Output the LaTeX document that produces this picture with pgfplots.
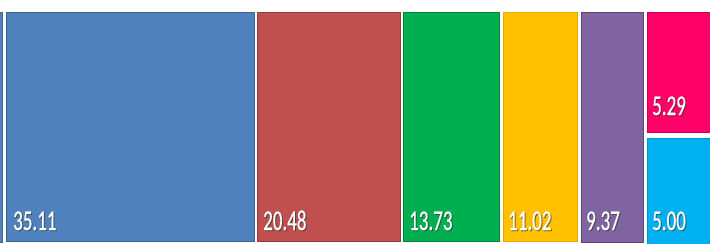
\documentclass[border=0pt]{standalone}
\usepackage{pgfplots}
\pgfplotsset{compat=1.18}
\usepackage{fontspec}
\setmainfont{Carlito}
\newfontfamily\labfont{Carlito}[FakeBold=0.7]
\definecolor{cblue}{HTML}{4F81BD}
\definecolor{cred}{HTML}{C0504D}
\definecolor{cgreen}{HTML}{00B050}
\definecolor{cyellow}{HTML}{FFC000}
\definecolor{cpurple}{HTML}{8064A2}
\definecolor{cpink}{HTML}{FF0066}
\definecolor{ccyan}{HTML}{00B0F0}
\newcommand{\lab}[3]{%
  \node[anchor=base west,inner sep=0pt,text=black!80,opacity=0.6] at (axis cs:#1+1,#2+1) {\labfont\fontsize{19bp}{22bp}\selectfont\scalebox{1}[1.5]{#3}};
  \node[anchor=base west,inner sep=0pt,text=white] at (axis cs:#1,#2) {\labfont\fontsize{19bp}{22bp}\selectfont\scalebox{1}[1.5]{#3}};}
\begin{document}
\begin{tikzpicture}
\begin{axis}[
  scale only axis, width=710bp, height=244bp,
  xmin=0, xmax=710, ymin=0, ymax=244, y dir=reverse,
  axis lines=none, ticks=none,
  every axis plot/.append style={line width=1bp},
]
% left partial tile
\addplot[fill=cblue, draw=cblue!80!black] coordinates {(-10,13) (2,13) (2,242) (-10,242)} -- cycle;
% 35.11
\addplot[fill=cblue, draw=cblue!75!black] coordinates {(6.5,13) (254.5,13) (254.5,241.5) (6.5,241.5)} -- cycle;
% 20.48
\addplot[fill=cred, draw=cred!75!black] coordinates {(257.5,13) (400.5,13) (400.5,241.5) (257.5,241.5)} -- cycle;
% 13.73
\addplot[fill=cgreen, draw=cgreen!75!black] coordinates {(403.5,13) (499,13) (499,241.5) (403.5,241.5)} -- cycle;
% 11.02
\addplot[fill=cyellow, draw=cyellow!90!black] coordinates {(503,13) (577.5,13) (577.5,241.5) (503,241.5)} -- cycle;
% 9.37
\addplot[fill=cpurple, draw=cpurple!70!black] coordinates {(581.5,13) (643.5,13) (643.5,242.5) (581.5,242.5)} -- cycle;
% 5.29
\addplot[fill=cpink, draw=cpink!80!black] coordinates {(647.5,13) (725,13) (725,132.5) (647.5,132.5)} -- cycle;
% 5.00
\addplot[fill=ccyan, draw=ccyan!85!black] coordinates {(647.5,138) (725,138) (725,250) (647.5,250)} -- cycle;
\lab{13}{230}{35.11}
\lab{263}{230}{20.48}
\lab{409}{230}{13.73}
\lab{508}{230}{11.02}
\lab{586}{230}{9.37}
\lab{652}{115}{5.29}
\lab{652}{230}{5.00}
\end{axis}
\pgfresetboundingbox
\path (0,0) rectangle (710bp,244bp);
\end{tikzpicture}
\end{document}
